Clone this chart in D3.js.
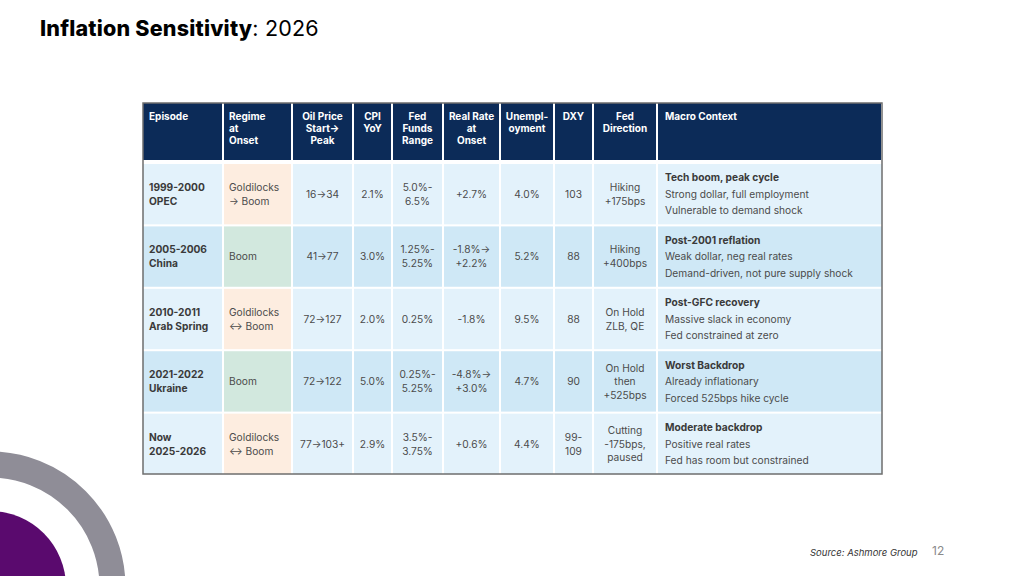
<!DOCTYPE html>
<html>
<head>
<meta charset="utf-8">
<script src="https://cdn.jsdelivr.net/npm/d3@7"></script>
<style>
  html, body { margin: 0; padding: 0; background: #fff; }
  svg { display: block; font-family: "Inter", "Noto Sans", sans-serif; }
</style>
</head>
<body>
<svg id="slide" width="1024" height="576"></svg>
<script>
// ---- data ----
const headers = [
  ["Episode"],
  ["Regime", "at", "Onset"],
  ["Oil Price", "Start→", "Peak"],
  ["CPI", "YoY"],
  ["Fed", "Funds", "Range"],
  ["Real Rate", "at", "Onset"],
  ["Unempl-", "oyment"],
  ["DXY"],
  ["Fed", "Direction"],
  ["Macro Context"]
];

const episodes = [
  ["1999-2000", "OPEC"],
  ["2005-2006", "China"],
  ["2010-2011", "Arab Spring"],
  ["2021-2022", "Ukraine"],
  ["Now", "2025-2026"]
];
const regimes = [
  ["Goldilocks", "→ Boom"],
  ["Boom"],
  ["Goldilocks", "↔ Boom"],
  ["Boom"],
  ["Goldilocks", "↔ Boom"]
];
const regimeType = ["goldilocks", "boom", "goldilocks", "boom", "goldilocks"];
const oilPrice = [["16→34"], ["41→77"], ["72→127"], ["72→122"], ["77→103+"]];
const cpiYoY = [["2.1%"], ["3.0%"], ["2.0%"], ["5.0%"], ["2.9%"]];
const fedFunds = [
  ["5.0%-", "6.5%"],
  ["1.25%-", "5.25%"],
  ["0.25%"],
  ["0.25%-", "5.25%"],
  ["3.5%-", "3.75%"]
];
const realRate = [["+2.7%"], ["-1.8%→", "+2.2%"], ["-1.8%"], ["-4.8%→", "+3.0%"], ["+0.6%"]];
const unemployment = [["4.0%"], ["5.2%"], ["9.5%"], ["4.7%"], ["4.4%"]];
const dxy = [["103"], ["88"], ["88"], ["90"], ["99-", "109"]];
const fedDirection = [
  ["Hiking", "+175bps"],
  ["Hiking", "+400bps"],
  ["On Hold", "ZLB, QE"],
  ["On Hold", "then", "+525bps"],
  ["Cutting", "-175bps,", "paused"]
];
const macroTitle = [
  "Tech boom, peak cycle",
  "Post-2001 reflation",
  "Post-GFC recovery",
  "Worst Backdrop",
  "Moderate backdrop"
];
const macroLines = [
  ["Strong dollar, full employment", "Vulnerable to demand shock"],
  ["Weak dollar, neg real rates", "Demand-driven, not pure supply shock"],
  ["Massive slack in economy", "Fed constrained at zero"],
  ["Already inflationary", "Forced 525bps hike cycle"],
  ["Positive real rates", "Fed has room but constrained"]
];

// ---- layout ----
const svg = d3.select("#slide");
const colEdges = [143, 223, 292, 353, 392, 443, 500, 554, 593, 657, 882];
const tableTop = 103;
const headerBottom = 160;
const bodyTop = 164;
const tableBottom = 474;
const gap = 2;

const colors = {
  header: "#0c2b58",
  rowOdd: "#e3f2fb",
  rowEven: "#cfe8f6",
  goldilocks: "#fdede0",
  boom: "#d2e8de",
  text: "#4b4b4b",
  bold: "#3a3a3a",
  border: "#6e6e6e"
};

const colIndex = d3.range(headers.length);
const xLeft = d3.scaleOrdinal().domain(colIndex).range(colEdges.slice(0, -1));
const xRight = d3.scaleOrdinal().domain(colIndex).range(colEdges.slice(1));
const rowIndex = d3.range(episodes.length);
const yRow = d3.scaleBand()
  .domain(rowIndex)
  .range([bodyTop, tableBottom])
  .paddingInner(0.033);

// decorative rings bottom-left
svg.append("circle")
  .attr("cx", -10).attr("cy", 587).attr("r", 122.5)
  .attr("fill", "none").attr("stroke", "#8f8d97").attr("stroke-width", 26);
svg.append("circle")
  .attr("cx", -10).attr("cy", 587).attr("r", 76)
  .attr("fill", "#5a0a6e");

// title
const title = svg.append("text")
  .attr("x", 40).attr("y", 36)
  .attr("font-size", 21.5)
  .attr("letter-spacing", 0.2)
  .attr("fill", "#000");
title.append("tspan").attr("font-weight", 800).text("Inflation Sensitivity");
title.append("tspan").attr("font-weight", 400).text(": 2026");

// table background (white gaps)
const table = svg.append("g");
table.append("rect")
  .attr("x", colEdges[0]).attr("y", tableTop)
  .attr("width", colEdges[colEdges.length - 1] - colEdges[0])
  .attr("height", tableBottom - tableTop)
  .attr("fill", "#ffffff");

// header cells
const headG = table.append("g");
headG.selectAll("rect")
  .data(colIndex)
  .join("rect")
  .attr("x", (i) => xLeft(i) + (i === 0 ? 0 : gap / 2))
  .attr("y", tableTop)
  .attr("width", (i) => xRight(i) - xLeft(i) - (i === 0 ? gap / 2 : gap))
  .attr("height", headerBottom - tableTop)
  .attr("fill", colors.header);

function alignFor(i) {
  return i === 0 || i === 1 || i === 9 ? "start" : "middle";
}
function textX(i) {
  if (i === 9) return xLeft(i) + 8;
  if (alignFor(i) === "start") return xLeft(i) + 6;
  return (xLeft(i) + xRight(i)) / 2;
}

headers.forEach((lines, i) => {
  const t = headG.append("text")
    .attr("x", textX(i))
    .attr("y", tableTop + 16.5)
    .attr("text-anchor", alignFor(i))
    .attr("font-size", 10)
    .attr("font-weight", 700)
    .attr("fill", "#ffffff");
  lines.forEach((l, k) => {
    t.append("tspan").attr("x", textX(i)).attr("dy", k === 0 ? 0 : 12).text(l);
  });
});

// body cells
const columns = [episodes, regimes, oilPrice, cpiYoY, fedFunds, realRate, unemployment, dxy, fedDirection];

const bodyG = table.append("g");
rowIndex.forEach((r) => {
  const y0 = yRow(r);
  const h = yRow.bandwidth();
  const base = r % 2 === 0 ? colors.rowOdd : colors.rowEven;
  colIndex.forEach((i) => {
    let fill = base;
    if (i === 1) fill = colors[regimeType[r]];
    bodyG.append("rect")
      .attr("x", xLeft(i) + (i === 0 ? 0 : gap / 2))
      .attr("y", y0)
      .attr("width", xRight(i) - xLeft(i) - (i === 0 || i === 9 ? gap / 2 : gap))
      .attr("height", h)
      .attr("fill", fill);
  });

  const cy = y0 + h / 2;
  columns.forEach((col, i) => {
    const lines = col[r];
    const lh = i === 8 && lines.length === 3 ? 13.5 : 14;
    const t = bodyG.append("text")
      .attr("x", textX(i))
      .attr("y", cy - ((lines.length - 1) * lh) / 2 + 3.8)
      .attr("text-anchor", alignFor(i))
      .attr("font-size", 10.2)
      .attr("font-weight", i === 0 ? 700 : 400)
      .attr("fill", i === 0 ? colors.bold : colors.text);
    lines.forEach((l, k) => {
      t.append("tspan").attr("x", textX(i)).attr("dy", k === 0 ? 0 : lh).text(l);
    });
  });

  // macro context
  const mLines = [macroTitle[r]].concat(macroLines[r]);
  const mlh = 16.5;
  const mt = bodyG.append("text")
    .attr("x", textX(9))
    .attr("y", cy - ((mLines.length - 1) * mlh) / 2 + 3.8)
    .attr("font-size", 10.2)
    .attr("fill", colors.text);
  mLines.forEach((l, k) => {
    mt.append("tspan")
      .attr("x", textX(9))
      .attr("dy", k === 0 ? 0 : mlh)
      .attr("font-weight", k === 0 ? 700 : 400)
      .attr("fill", k === 0 ? colors.bold : colors.text)
      .text(l);
  });
});

// outer border
table.append("rect")
  .attr("x", colEdges[0]).attr("y", tableTop)
  .attr("width", colEdges[colEdges.length - 1] - colEdges[0])
  .attr("height", tableBottom - tableTop)
  .attr("fill", "none")
  .attr("stroke", colors.border)
  .attr("stroke-width", 1.5);

// footer
svg.append("text")
  .attr("x", 810).attr("y", 556)
  .attr("font-size", 9.5)
  .attr("font-style", "italic")
  .attr("fill", "#333")
  .text("Source: Ashmore Group");
svg.append("text")
  .attr("x", 932).attr("y", 555)
  .attr("font-size", 12)
  .attr("fill", "#8a8a8a")
  .text("12");
</script>
</body>
</html>
